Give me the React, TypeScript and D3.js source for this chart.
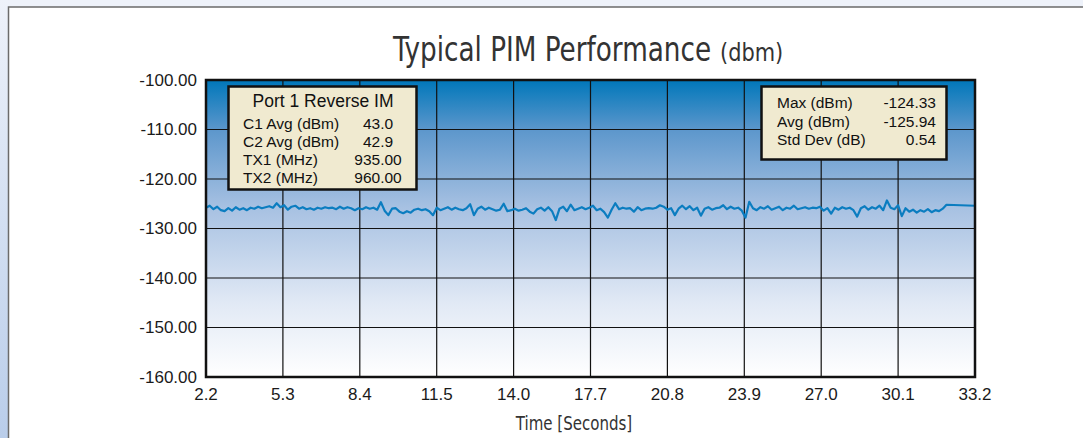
import React, { useEffect, useRef } from 'react';
import * as d3 from 'd3';

// x axis tick labels (seconds, evenly spaced on the chart) and y axis ticks (dBm)
const xTickLabels = ['2.2', '5.3', '8.4', '11.5', '14.0', '17.7', '20.8', '23.9', '27.0', '30.1', '33.2'];
const yTicks = [-100, -110, -120, -130, -140, -150, -160];

// PIM samples (one sample every 0.15 s from 2.2 s)
const sampleStart = 2.2;
const sampleStep = 0.15;
const pimValues = [
  -125.8, -125.4, -126.1, -125.6, -126.3, -126.5, -125.9, -126.4, -125.7, -126.2,
  -125.9, -126.3, -125.8, -126.0, -125.6, -125.9, -125.7, -125.5, -125.8, -124.9,
  -125.7, -125.3, -126.2, -125.6, -125.4, -126.0, -125.7, -126.1, -125.9, -126.2,
  -125.8, -126.0, -125.7, -125.9, -125.8, -126.1, -125.6, -126.0, -125.7, -125.9,
  -126.3, -125.9, -126.1, -125.7, -126.0, -125.8, -126.2, -124.7, -126.4, -127.3,
  -126.0, -125.9, -126.6, -126.9, -126.5, -126.8, -126.2, -126.0, -126.3, -126.1,
  -126.5, -127.3, -125.8, -126.3, -126.0, -125.7, -126.2, -125.8, -126.1, -126.3,
  -125.9, -125.1, -127.3, -126.0, -125.6, -126.2, -125.8, -126.1, -126.4, -126.2,
  -125.0, -126.5, -126.3, -126.0, -126.4, -126.2, -125.9, -126.6, -127.0, -126.1,
  -125.8, -126.4, -125.7, -126.5, -128.3, -126.0, -125.6, -126.5, -125.2, -126.3,
  -126.0, -125.7, -126.1, -125.8, -125.4, -126.3, -126.0, -126.7, -127.8, -126.2,
  -124.9, -126.1, -125.8, -126.0, -125.9, -126.6, -125.7, -126.3, -126.0, -125.9,
  -126.0, -125.8, -125.3, -125.6, -126.2, -125.9, -127.3, -126.0, -125.4, -126.1,
  -125.5, -126.3, -125.8, -127.4, -126.0, -125.7, -126.2, -125.9, -125.8, -125.3,
  -126.1, -125.6, -126.0, -125.8, -126.4, -127.8, -124.6, -125.9, -126.3, -125.7,
  -126.0, -125.5, -126.2, -125.9, -125.6, -126.3, -125.8, -126.0, -125.4, -126.1,
  -125.9, -125.7, -126.0, -125.8, -125.9, -125.6, -126.4, -125.9, -127.0, -125.8,
  -126.2, -125.7, -126.0, -125.8, -126.3, -127.6, -125.9, -125.5, -126.2, -125.7,
  -126.0, -125.4, -126.3, -124.33, -125.8, -126.1, -125.3, -127.5, -125.9, -126.6,
  -126.2, -126.8, -126.3, -126.6, -126.1, -126.7, -126.3, -126.5, -126.0, -125.2,
];
const lastTime = 33.2;
const lastValue = -125.4;

const leftBoxTitle = 'Port 1 Reverse IM';
const leftBoxLabels = ['C1 Avg (dBm)', 'C2 Avg (dBm)', 'TX1 (MHz)', 'TX2 (MHz)'];
const leftBoxValues = ['43.0', '42.9', '935.00', '960.00'];
const rightBoxLabels = ['Max (dBm)', 'Avg (dBm)', 'Std Dev (dB)'];
const rightBoxValues = ['-124.33', '-125.94', '0.54'];

export default function App() {
  const svgRef = useRef<SVGSVGElement>(null);

  useEffect(() => {
    if (!svgRef.current) return;
    const svg = d3.select(svgRef.current);
    svg.selectAll('*').remove();

    const width = 1083;
    const height = 438;
    const plot = { left: 206, right: 975, top: 80, bottom: 377 };

    const x = d3.scaleLinear().domain([2.2, 33.2]).range([plot.left, plot.right]);
    // gridlines are evenly spaced, whatever the label says
    const xTick = d3.scalePoint<string>().domain(xTickLabels).range([plot.left, plot.right]);
    const y = d3.scaleLinear().domain([-160, -100]).range([plot.bottom, plot.top]);

    const defs = svg.append('defs');
    const bg = defs.append('linearGradient').attr('id', 'plotBg')
      .attr('x1', 0).attr('y1', 0).attr('x2', 0).attr('y2', 1);
    [[0, '#0077ba'], [0.17, '#5d97cc'], [0.43, '#a7c1e2'], [0.75, '#e1e9f5'], [1, '#ffffff']]
      .forEach(([o, c]) => bg.append('stop').attr('offset', o as number).attr('stop-color', c as string));

    const side = defs.append('linearGradient').attr('id', 'sideBg')
      .attr('x1', 0).attr('y1', 0).attr('x2', 0).attr('y2', 1);
    side.append('stop').attr('offset', 0).attr('stop-color', '#eef2fa');
    side.append('stop').attr('offset', 1).attr('stop-color', '#b9cdea');

    // page frame
    svg.append('rect').attr('width', width).attr('height', height).attr('fill', '#eef2fa');
    svg.append('rect').attr('x', 0).attr('y', 0).attr('width', 9).attr('height', height).attr('fill', 'url(#sideBg)');
    svg.append('rect').attr('x', 8.5).attr('y', 7).attr('width', width + 10).attr('height', height)
      .attr('fill', '#ffffff').attr('stroke', '#6b6b6b').attr('stroke-width', 1.5);

    const narrow = "font-family: 'Liberation Sans Narrow', 'DejaVu Sans Condensed', sans-serif;";

    // title, squeezed horizontally like the condensed original
    svg.append('text').attr('transform', 'translate(393,61) scale(0.885,1)')
      .attr('fill', '#333').attr('style', narrow + ' font-size: 33px;')
      .text('Typical PIM Performance');
    svg.append('text').attr('transform', 'translate(720,61) scale(0.93,1)')
      .attr('fill', '#333').attr('style', narrow + ' font-size: 25px;')
      .text('(dbm)');

    // plot background
    svg.append('rect').attr('x', plot.left).attr('y', plot.top)
      .attr('width', plot.right - plot.left).attr('height', plot.bottom - plot.top)
      .attr('fill', 'url(#plotBg)');

    // grid
    svg.append('g').selectAll('line').data(xTickLabels).join('line')
      .attr('x1', d => xTick(d)!).attr('x2', d => xTick(d)!)
      .attr('y1', plot.top).attr('y2', plot.bottom)
      .attr('stroke', '#111').attr('stroke-width', 1.2);
    svg.append('g').selectAll('line').data(yTicks).join('line')
      .attr('x1', plot.left).attr('x2', plot.right)
      .attr('y1', d => y(d)).attr('y2', d => y(d))
      .attr('stroke', '#111').attr('stroke-width', 1.2);

    // trace
    const points: [number, number][] = pimValues.map((v, i) => [sampleStart + i * sampleStep, v]);
    points.push([lastTime, lastValue]);
    svg.append('path').datum(points)
      .attr('fill', 'none').attr('stroke', '#0b7dc0').attr('stroke-width', 2.2)
      .attr('stroke-linejoin', 'round')
      .attr('d', d3.line<[number, number]>().x(d => x(d[0])).y(d => y(d[1])));

    // plot border
    svg.append('rect').attr('x', plot.left).attr('y', plot.top)
      .attr('width', plot.right - plot.left).attr('height', plot.bottom - plot.top)
      .attr('fill', 'none').attr('stroke', '#111').attr('stroke-width', 2.5);

    const tickStyle = "font-family: 'Liberation Sans', Arial, sans-serif; font-size: 17px;";

    svg.append('g').selectAll('text').data(yTicks).join('text')
      .attr('x', 197).attr('y', d => y(d)).attr('dy', '0.35em')
      .attr('text-anchor', 'end').attr('fill', '#1a1a1a').attr('style', tickStyle)
      .text(d => d.toFixed(2));
    svg.append('g').selectAll('text').data(xTickLabels).join('text')
      .attr('x', d => xTick(d)!).attr('y', 394).attr('dy', '0.35em')
      .attr('text-anchor', 'middle').attr('fill', '#1a1a1a').attr('style', tickStyle)
      .text(d => d);

    svg.append('text').attr('transform', 'translate(574,430) scale(0.88,1)')
      .attr('text-anchor', 'middle')
      .attr('fill', '#333').attr('style', narrow + ' font-size: 19px;')
      .text('Time [Seconds]');

    const boxStyle = "font-family: 'Liberation Sans', Arial, sans-serif; font-size: 15.5px;";

    // left info box
    const lb = svg.append('g');
    lb.append('rect').attr('x', 228.5).attr('y', 86.5).attr('width', 188).attr('height', 103)
      .attr('fill', '#f0ead0').attr('stroke', '#111').attr('stroke-width', 2.5);
    lb.append('text').attr('x', 323).attr('y', 101).attr('dy', '0.35em')
      .attr('text-anchor', 'middle').attr('fill', '#111')
      .attr('style', "font-family: 'Liberation Sans', Arial, sans-serif; font-size: 17.5px;")
      .text(leftBoxTitle);
    leftBoxLabels.forEach((t, i) => {
      lb.append('text').attr('x', 243).attr('y', 124 + i * 18).attr('dy', '0.35em')
        .attr('fill', '#111').attr('style', boxStyle).text(t);
      lb.append('text').attr('x', 378).attr('y', 124 + i * 18).attr('dy', '0.35em')
        .attr('text-anchor', 'middle').attr('fill', '#111').attr('style', boxStyle).text(leftBoxValues[i]);
    });

    // right info box
    const rb = svg.append('g');
    rb.append('rect').attr('x', 761.5).attr('y', 86.5).attr('width', 185).attr('height', 73)
      .attr('fill', '#f0ead0').attr('stroke', '#111').attr('stroke-width', 2.5);
    rightBoxLabels.forEach((t, i) => {
      rb.append('text').attr('x', 777).attr('y', 103 + i * 18.5).attr('dy', '0.35em')
        .attr('fill', '#111').attr('style', boxStyle).text(t);
      rb.append('text').attr('x', 936).attr('y', 103 + i * 18.5).attr('dy', '0.35em')
        .attr('text-anchor', 'end').attr('fill', '#111').attr('style', boxStyle).text(rightBoxValues[i]);
    });
  }, []);

  return (
    <div style={{ position: 'fixed', left: 0, top: 0, width: 1083, height: 438, overflow: 'hidden' }}>
      <svg ref={svgRef} width={1083} height={438}></svg>
    </div>
  );
}
